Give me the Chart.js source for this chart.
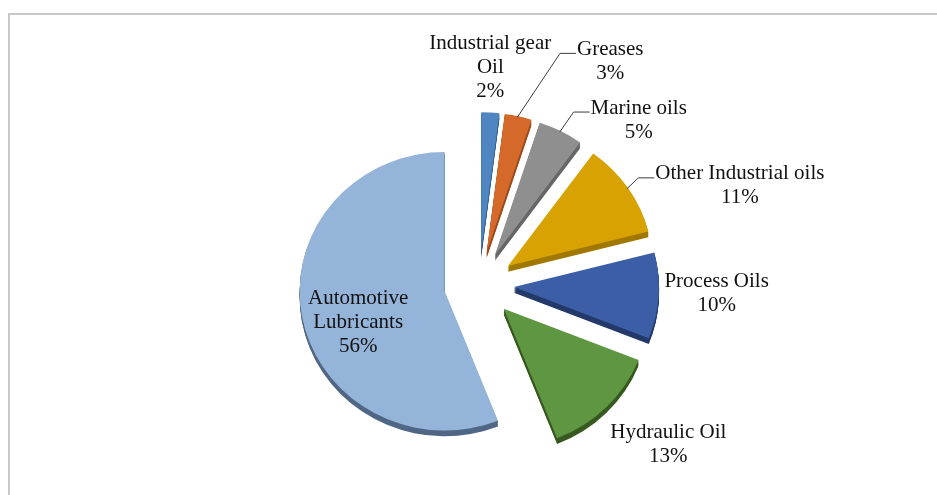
<!DOCTYPE html>
<html>
<head>
<meta charset="utf-8">
<script src="https://cdn.jsdelivr.net/npm/chart.js@4.4.0/dist/chart.umd.min.js"></script>
<style>
    html, body { margin: 0; padding: 0; background: #fff; }
    #caja { position: relative; width: 937px; height: 495px; overflow: hidden; }
    #marco { position: absolute; left: 8px; top: 13px; width: 960px; height: 520px;
             border-top: 2px solid #c8c8c8; border-left: 2px solid #c8c8c8; }
    canvas { position: absolute; left: 0; top: 0; }
</style>
</head>
<body>
<div id="caja">
    <div id="marco"></div>
    <canvas id="grafica" width="937" height="495"></canvas>
</div>
<script>
// datos
    const categorias = [
        ['Industrial gear', 'Oil'],
        ['Greases'],
        ['Marine oils'],
        ['Other Industrial oils'],
        ['Process Oils'],
        ['Hydraulic Oil'],
        ['Automotive', 'Lubricants']
    ];
    const porcentajes = [2, 3, 5, 11, 10, 13, 56];

// colores (cara superior y pared)
    const colores     = ['#4f86c1', '#d4692a', '#8f8f8f', '#d8a302', '#3b5ea6', '#5e9641', '#95b4d9'];
    const coloresLado = ['#2f5b8c', '#9a4a1c', '#666666', '#a07800', '#22396a', '#37581f', '#4f6784'];

// etiquetas: desplazamiento desde el borde exterior de cada porcion
    const etiquetas = [
        { dx: 0,   dy: -45, guia: false },
        { dx: 92,  dy: -55, guia: true  },
        { dx: 78,  dy: -11, guia: true  },
        { dx: 112, dy: -2,  guia: true  },
        { dx: 58,  dy: -2,  guia: false },
        { dx: 62,  dy: 37,  guia: false },
        { dx: 56,  dy: 5,   guia: false }
    ];

    const EXPLOTA = 35;   // separacion de cada porcion
    const GROSOR = 6;     // grosor del efecto 3D
    const INCLINA = 0.96; // achatado vertical del pastel
    const ALTO = 24;      // alto de linea del texto

    function centroArco(arc) {
        const mid = (arc.startAngle + arc.endAngle) / 2;
        return { mid, ox: Math.cos(mid) * EXPLOTA, oy: Math.sin(mid) * EXPLOTA };
    }

    function inclinar(ctx, arc) {
        ctx.translate(arc.x, arc.y);
        ctx.scale(1, INCLINA);
        ctx.translate(-arc.x, -arc.y);
    }

//Pastel con porciones separadas y pared inferior
    const pastel3D = {
        id: 'pastel3D',
        beforeDatasetDraw(chart, args) {
            const ctx = chart.ctx;
            const arcos = args.meta.data;

            arcos.forEach((arc, i) => {
                const { x, y, startAngle, endAngle, outerRadius } = arc;
                const { ox, oy } = centroArco(arc);
                ctx.save();
                inclinar(ctx, arc);
                ctx.fillStyle = coloresLado[i];
                for (let k = 1; k <= GROSOR; k++) {
                    ctx.beginPath();
                    ctx.moveTo(x + ox, y + oy + k);
                    ctx.arc(x + ox, y + oy + k, outerRadius, startAngle, endAngle);
                    ctx.closePath();
                    ctx.fill();
                }
                ctx.restore();
            });

            arcos.forEach(arc => {
                const { ox, oy } = centroArco(arc);
                ctx.save();
                inclinar(ctx, arc);
                ctx.translate(ox, oy);
                arc.draw(ctx);
                ctx.restore();
            });

            return false;
        },
        afterDatasetsDraw(chart) {
            const ctx = chart.ctx;
            const arcos = chart.getDatasetMeta(0).data;

            ctx.save();
            ctx.font = '21px "Liberation Serif", "Times New Roman", serif';
            ctx.fillStyle = '#111';
            ctx.textAlign = 'center';
            ctx.textBaseline = 'middle';

            arcos.forEach((arc, i) => {
                const { mid } = centroArco(arc);
                const ax = arc.x + Math.cos(mid) * (arc.outerRadius + EXPLOTA);
                const ay = arc.y + Math.sin(mid) * (arc.outerRadius + EXPLOTA) * INCLINA;
                const lineas = [...categorias[i], porcentajes[i] + '%'];
                const e = etiquetas[i];
                const cx = ax + e.dx;
                const top = ay + e.dy - (lineas.length - 1) * ALTO / 2;

                lineas.forEach((t, j) => ctx.fillText(t, cx, top + j * ALTO));

                if (e.guia) {
                    const izq = cx - ctx.measureText(lineas[0]).width / 2 - 1;
                    const gy = top + 4;
                    ctx.strokeStyle = '#3c3c3c';
                    ctx.lineWidth = 1;
                    ctx.beginPath();
                    ctx.moveTo(ax - 1, ay + 1);
                    ctx.lineTo(izq - 16, gy);
                    ctx.lineTo(izq, gy);
                    ctx.stroke();
                }
            });
            ctx.restore();
        }
    };

//Grafica
    const ctx = document.getElementById('grafica').getContext('2d');

    let chart = new Chart(ctx, {
        type: 'pie',
        data: {
            labels: categorias.map(c => c.join(' ')),
            datasets: [{
                data: porcentajes,
                backgroundColor: colores,
                borderWidth: 0,
                radius: 145
            }]
        },
        options: {
            responsive: false,
            animation: false,
            layout: { padding: { left: 21, top: 75, right: 0, bottom: 0 } },
            plugins: {
                legend: { display: false },
                tooltip: { enabled: false }
            }
        },
        plugins: [pastel3D]
    });
</script>
</body>
</html>
